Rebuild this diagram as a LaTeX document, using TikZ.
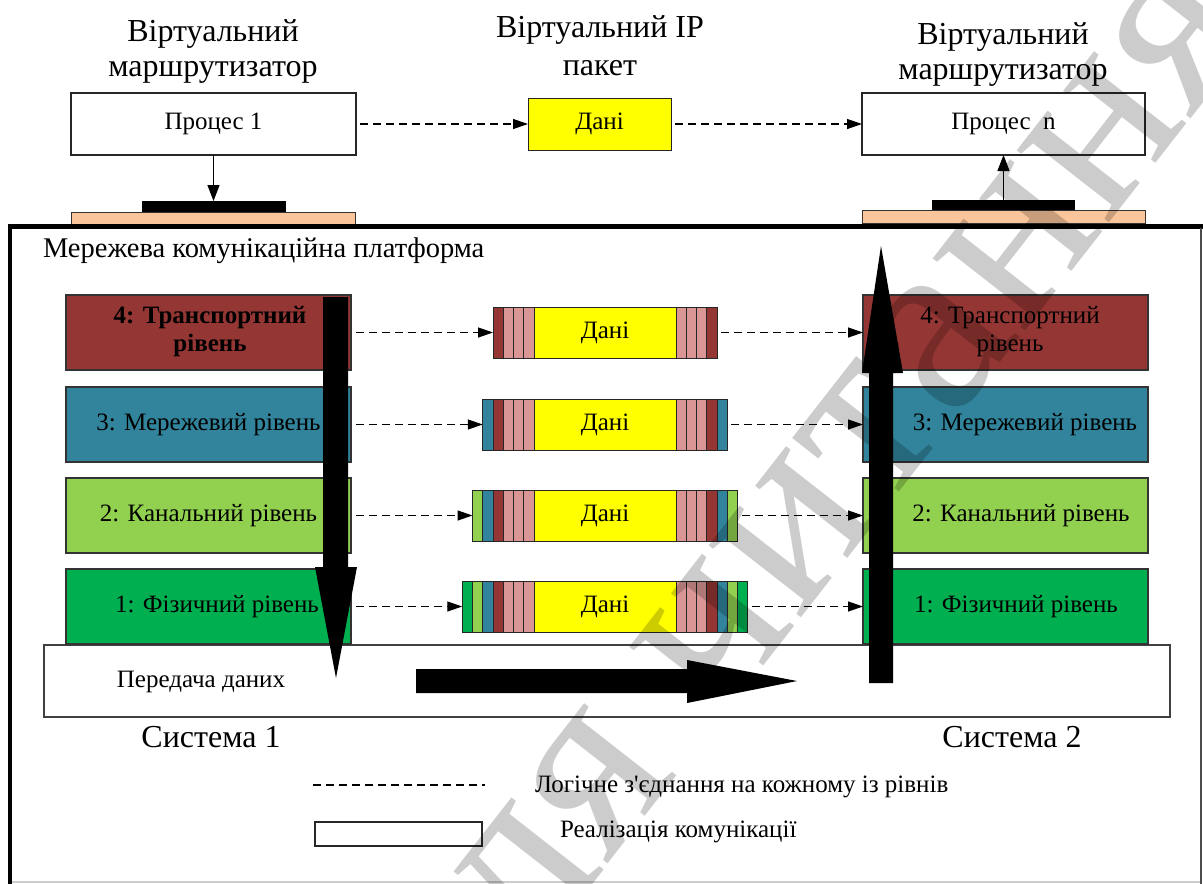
\documentclass[tikz,border=0pt]{standalone}
\usepackage{fontspec}
\setmainfont{Liberation Serif}
\usetikzlibrary{arrows.meta}
\definecolor{peach}{HTML}{FAC59A}
\definecolor{tred}{HTML}{943634}
\definecolor{tteal}{HTML}{31849B}
\definecolor{tlgreen}{HTML}{92D050}
\definecolor{tgreen}{HTML}{00B050}
\definecolor{tpink}{HTML}{D99694}
\definecolor{tyellow}{HTML}{FFFF00}
\begin{document}
\begin{tikzpicture}[x=1pt,y=-1pt,
  every node/.style={inner sep=0pt, outer sep=0pt},
  ttl/.style={font=\fontsize{32}{35}\selectfont, align=center},
  lbl/.style={font=\fontsize{25}{28}\selectfont, align=center},
  wbox/.style={draw=black!85, line width=1.2pt, fill=white, lbl},
  layer/.style={draw=black!80, line width=1.2pt, minimum width=285pt, minimum height=75pt},
  seg/.style={draw=black!85, line width=1pt, minimum width=10.25pt, minimum height=51pt},
  datab/.style={draw=black!85, line width=1pt, fill=tyellow, minimum width=142pt, minimum height=51pt, lbl},
  dasharrow/.style={dash pattern=on 8pt off 5pt, line width=1.3pt, -{Triangle[length=15pt,width=10pt]}},
  solidarrow/.style={line width=1.2pt, -{Triangle[length=16pt,width=12pt]}},
  bigarrow/.style={fill=black}
]
\useasboundingbox (0,0) rectangle (1203,884);
\fill[white] (0,0) rectangle (1203,884);

% titles
\node[ttl, anchor=base] (t1) at (213,76) {Віртуальний\\маршрутизатор};
\node[ttl, anchor=base] (t2) at (600,75) {Віртуальний IP\\[3pt]пакет};
\node[ttl, anchor=base] (t3) at (1003,79) {Віртуальний\\маршрутизатор};

% process boxes
\node[wbox, minimum width=285pt, minimum height=62pt] (p1) at (213.5,124) {Процес 1};
\node[wbox, minimum width=283pt, minimum height=62pt] (pn) at (1003.5,124) {Процес\enspace n};
\node[datab, minimum width=143pt, minimum height=52pt] (ip) at (599.5,124) {Дані};
\draw[dasharrow, shorten <=4pt] (p1.east) -- (ip.west);
\draw[dasharrow, shorten <=4pt] (ip.east) -- (pn.west);

% interface bars
\node[draw=black!80, line width=1pt, fill=peach, minimum width=284pt, minimum height=12pt] (pe1) at (213,218) {};
\node[fill=black, minimum width=144pt, minimum height=11pt] (bb1) at (214,206.5) {};
\node[draw=black!80, line width=1pt, fill=peach, minimum width=283pt, minimum height=13pt] (pen) at (1003.5,216.5) {};
\node[fill=black, minimum width=143pt, minimum height=10pt] (bbn) at (1003.5,205) {};
\draw[solidarrow] (p1.south) -- (p1.south |- bb1.north);
\draw[solidarrow] (bbn.north) -- (bbn.north |- pn.south);

% platform frame
\draw[line width=4.5pt] (10,884) -- (10,226.5) -- (1203,226.5);
\draw[black!70, line width=2pt] (1201,228) -- (1201,884);
\draw[black!20, line width=2pt] (12,882) -- (1200,882);
\node[anchor=base west, font=\fontsize{28.5}{32}\selectfont] (plat) at (43,257) {Мережева комунікаційна платформа};

% transmission box
\node[draw=black!75, line width=1.5pt, fill=white, minimum width=1126pt, minimum height=72pt] (tx) at (607,681) {};
\node[lbl] (txl) at (201,682) {Передача даних};

% layers
\node[layer, fill=tred] (L4) at (208.5,332.5) {};
\node[layer, fill=tteal] (L3) at (208.5,424.5) {};
\node[layer, fill=tlgreen] (L2) at (208.5,515.5) {};
\node[layer, fill=tgreen] (L1) at (208.5,606.5) {};
\node[layer, fill=tred] (R4) at (1005.5,332.5) {};
\node[layer, fill=tteal] (R3) at (1005.5,424.5) {};
\node[layer, fill=tlgreen] (R2) at (1005.5,515.5) {};
\node[layer, fill=tgreen] (R1) at (1005.5,606.5) {};
\node[lbl, font=\fontsize{25}{28}\selectfont\bfseries] (L4t) at (210,332) {4: Транспортний\\рівень};
\node[lbl] (L3t) at (208.5,424.5) {3: Мережевий рівень};
\node[lbl] (L2t) at (208.5,515.5) {2: Канальний рівень};
\node[lbl] (L1t) at (217,606.5) {1: Фізичний рівень};
\node[lbl] (R4t) at (1010,332) {4: Транспортний\\рівень};
\node[lbl] (R3t) at (1025,424.5) {3: Мережевий рівень};
\node[lbl] (R2t) at (1021,515.5) {2: Канальний рівень};
\node[lbl] (R1t) at (1016,606.5) {1: Фізичний рівень};

% packets
\foreach \r/\y/\n in {4/332.5/4, 3/424.5/5, 2/515.5/6, 1/606.5/7} {
  \node[datab] (d\r) at (605,\y) {Дані};
  \foreach \c [count=\k] in {tpink,tpink,tpink,tred,tteal,tlgreen,tgreen} {
    \ifnum\k>\n\relax\else
      \node[seg, fill=\c] (s\r-l\k) at ({534-(\k-0.5)*10.25},\y) {};
      \node[seg, fill=\c] (s\r-r\k) at ({676+(\k-0.5)*10.25},\y) {};
    \fi
  }
  \draw[dasharrow, shorten <=5pt] (L\r.east) -- (s\r-l\n.west);
  \draw[dasharrow, shorten <=4pt] (s\r-r\n.east) -- (R\r.west);
}

% big arrows
\fill[bigarrow] (323,297) -- (348,297) -- (348,567) -- (357,567) -- (336,678) -- (315,567) -- (323,567) -- cycle;
\fill[bigarrow] (869,683) -- (893,683) -- (893,373) -- (903,373) -- (881,246) -- (862,373) -- (869,373) -- cycle;
\fill[bigarrow] (416,669) -- (687,669) -- (687,660) -- (797,681) -- (687,703) -- (687,693) -- (416,693) -- cycle;

% systems
\node[ttl, anchor=base] (sys1) at (211,747) {Система 1};
\node[ttl, anchor=base] (sys2) at (1012,747) {Система 2};

% legend
\coordinate (lg1) at (313,785);
\coordinate (lg2) at (485,785);
\draw[dash pattern=on 8pt off 5pt, line width=1.3pt] (lg1) -- (lg2);
\node[lbl, anchor=west] (lgt1) at (535,787) {Логічне з{\addfontfeatures{Ligatures=TeXOff}'}єднання на кожному із рівнів};
\node[draw=black!85, line width=1.2pt, minimum width=167pt, minimum height=24pt] (lgb) at (398.5,834) {};
\node[lbl, anchor=west] (lgt2) at (560,832) {Реалізація комунікації};

% watermark
\node[opacity=0.2, rotate=52, anchor=east, font=\fontsize{255}{255}\selectfont] (wm) at (1235,5) {для читання};
\end{tikzpicture}
\end{document}
